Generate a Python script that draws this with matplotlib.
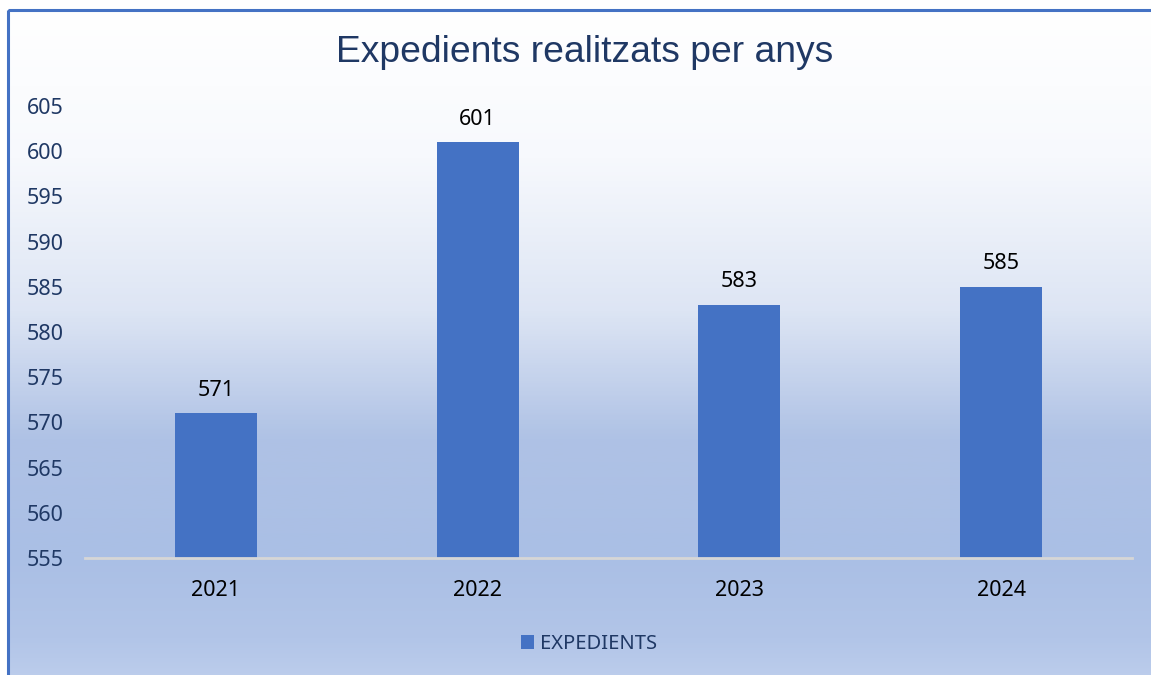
import numpy as np
import matplotlib.pyplot as plt
from matplotlib.colors import LinearSegmentedColormap
from matplotlib.patches import Rectangle

years = ['2021', '2022', '2023', '2024']
expedients = [571, 601, 583, 585]
y_ticks = [555, 560, 565, 570, 575, 580, 585, 590, 595, 600, 605]

W, H = 1151, 675
fig = plt.figure(figsize=(W / 100, H / 100), dpi=100)
fig.patch.set_facecolor('white')

# background gradient of the chart box (top white -> light blue)
bg = fig.add_axes([0, 0, 1, 1])
bg.set_xlim(0, W)
bg.set_ylim(H, 0)
bg.axis('off')
stops = [(0.0, '#ffffff'), (0.22, '#f7f9fd'), (0.45, '#dde5f4'),
         (0.64, '#afc2e5'), (0.82, '#aabfe5'), (0.94, '#b2c5e8'), (1.0, '#bccdec')]
cmap = LinearSegmentedColormap.from_list('bggrad', stops)
grad = np.linspace(0, 1, 400).reshape(-1, 1)
bg.imshow(grad, cmap=cmap, aspect='auto', extent=[8, W + 5, H + 5, 9], zorder=0)
bg.add_patch(Rectangle((8.5, 9.5), W + 20, H + 20, fill=False, edgecolor='#4472c4', lw=2.2, zorder=1))

ax = fig.add_axes([85 / W, 1 - 558 / H, (1132 - 85) / W, (558 - 106) / H])
ax.patch.set_alpha(0)
x = np.arange(len(years))
bars = ax.bar(x, expedients, width=0.314, color='#4472c4', zorder=2)
ax.set_xlim(-0.5, len(years) - 0.5)
ax.set_ylim(555, 605)

for spine in ['top', 'right', 'left']:
    ax.spines[spine].set_visible(False)
ax.spines['bottom'].set_color('#d6d6d6')
ax.spines['bottom'].set_linewidth(2)
ax.spines['bottom'].set_zorder(3)

ax.set_yticks(y_ticks)
ax.set_yticklabels([str(t) for t in y_ticks], fontsize=15.5, color='#1f3864', family='Noto Sans')
ax.tick_params(axis='y', length=0, pad=42)
for lbl in ax.get_yticklabels():
    lbl.set_horizontalalignment('left')
ax.set_xticks(x)
ax.set_xticklabels(years, fontsize=15.5, color='black', family='Noto Sans')
ax.tick_params(axis='x', length=0, pad=16)

for xi, v in zip(x, expedients):
    ax.annotate(str(v), (xi, v), xytext=(0, 9), textcoords='offset points',
                ha='center', va='bottom', fontsize=15.5, family='Noto Sans', color='black')

fig.text(585 / W, 1 - 53 / H, 'Expedients realitzats per anys', ha='center', va='center',
         fontsize=26.8, color='#1f3864', family='Liberation Sans')

leg = ax.legend([bars], ['EXPEDIENTS'], loc='center', bbox_to_anchor=(589 / W, 1 - 644 / H),
                bbox_transform=fig.transFigure, frameon=False, handlelength=0.65, handleheight=0.65,
                handletextpad=0.3, prop={'family': 'Noto Sans', 'size': 14.5})
for t in leg.get_texts():
    t.set_color('#1f3864')

fig.savefig('out.png', dpi=100)
